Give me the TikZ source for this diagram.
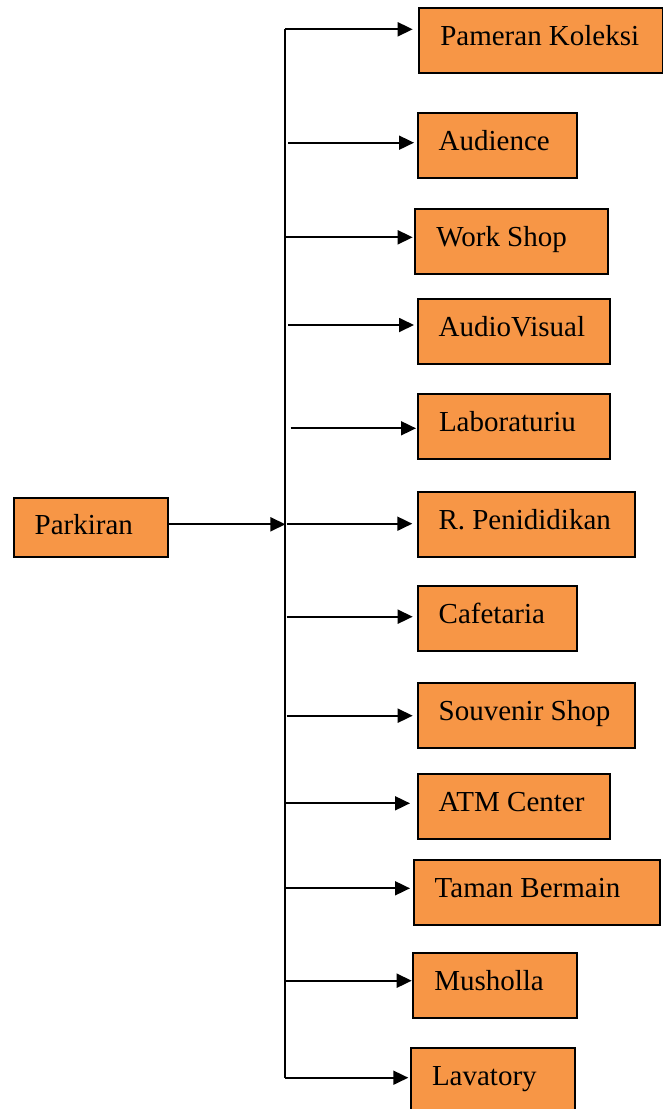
\documentclass[tikz,border=0pt]{standalone}
\usepackage{fontspec}
\setmainfont{Liberation Serif}
\usetikzlibrary{arrows.meta,calc}
\definecolor{boxorange}{HTML}{F79646}
% left-aligned label of a given box width, with a fixed left padding
\newcommand{\padtext}[2]{\makebox[#1pt][l]{\hspace{21pt}#2}}

\begin{document}
\begin{tikzpicture}[x=1pt,y=-1pt,
  roombox/.style={draw=black, fill=boxorange, line width=2pt, anchor=north west,
    inner xsep=0pt, inner ysep=0pt, minimum height=65pt,
    text height=20pt, text depth=10pt, font=\fontsize{29}{34}\selectfont},
  flow/.style={line width=1.8pt, -{Triangle[length=15pt,width=14pt]}},
  trunk/.style={line width=1.8pt}]
\useasboundingbox (0,0) rectangle (663,1109);

% source
\node[roombox, minimum width=154.3pt, minimum height=59.3pt, text depth=6pt]
  (parkiran) at (12.7,496.7) {\padtext{154.3}{Parkiran}};

% destinations
\node[roombox, minimum width=243.7pt] (pameran)  at (418.3,6.7)    {\padtext{243.7}{Pameran Koleksi}};
\node[roombox, minimum width=159.3pt] (audience) at (416.7,112)    {\padtext{159.3}{Audience}};
\node[roombox, minimum width=192.4pt] (workshop) at (414.3,207.7)  {\padtext{192.4}{Work Shop}};
\node[roombox, minimum width=192.3pt] (av)       at (416.7,297.7)  {\padtext{192.3}{AudioVisual}};
\node[roombox, minimum width=192pt]   (lab)      at (417,393)      {\padtext{192}{Laboraturiu}};
\node[roombox, minimum width=217.7pt] (pend)     at (416.5,490.7)  {\padtext{217.7}{R. Penididikan}};
\node[roombox, minimum width=159.3pt] (cafe)     at (416.7,584.7)  {\padtext{159.3}{Cafetaria}};
\node[roombox, minimum width=217.6pt] (souvenir) at (416.7,682)    {\padtext{217.6}{Souvenir Shop}};
\node[roombox, minimum width=192.3pt] (atm)      at (416.7,772.7)  {\padtext{192.3}{ATM Center}};
\node[roombox, minimum width=246.6pt] (taman)    at (412.7,859.3)  {\padtext{246.6}{Taman Bermain}};
\node[roombox, minimum width=163.7pt] (musholla) at (412.3,952.3)  {\padtext{163.7}{Musholla}};
\node[roombox, minimum width=164pt]   (lavatory) at (410,1047.3)   {\padtext{164}{Lavatory}};

% distribution trunk
\coordinate (ttop) at (285,29.3);
\coordinate (tbot) at (285,1077.7);
\draw[trunk] (ttop) -- (tbot);

% entry arrow into the trunk
\coordinate (join) at (285.4,524.3);
\draw[flow] (parkiran.east |- join) -- (join);

% branch start points
\coordinate (s2)  at (288,142.7);
\coordinate (s3)  at (286,237.3);
\coordinate (s4)  at (288.3,325);
\coordinate (s5)  at (290.7,428.3);
\coordinate (s6)  at (286.7,523.7);
\coordinate (s7)  at (286.7,616.7);
\coordinate (s8)  at (286.7,715.7);
\coordinate (s9)  at (284.7,803.3);
\coordinate (s10) at (284,888.3);
\coordinate (s11) at (286,980.7);

% branches
\draw[flow, shorten >=5.6pt] (ttop) -- (ttop -| pameran.west);
\draw[flow, shorten >=2.7pt] (s2)  -- (s2  -| audience.west);
\draw[flow, shorten >=1.6pt] (s3)  -- (s3  -| workshop.west);
\draw[flow, shorten >=2.7pt] (s4)  -- (s4  -| av.west);
\draw[flow, shorten >=1pt]   (s5)  -- (s5  -| lab.west);
\draw[flow, shorten >=4.2pt] (s6)  -- (s6  -| pend.west);
\draw[flow, shorten >=4pt]   (s7)  -- (s7  -| cafe.west);
\draw[flow, shorten >=4pt]   (s8)  -- (s8  -| souvenir.west);
\draw[flow, shorten >=6.7pt] (s9)  -- (s9  -| atm.west);
\draw[flow, shorten >=2.7pt] (s10) -- (s10 -| taman.west);
\draw[flow, shorten >=0.6pt] (s11) -- (s11 -| musholla.west);
\draw[flow, shorten >=1.7pt] (tbot) -- (tbot -| lavatory.west);
\end{tikzpicture}
\end{document}
